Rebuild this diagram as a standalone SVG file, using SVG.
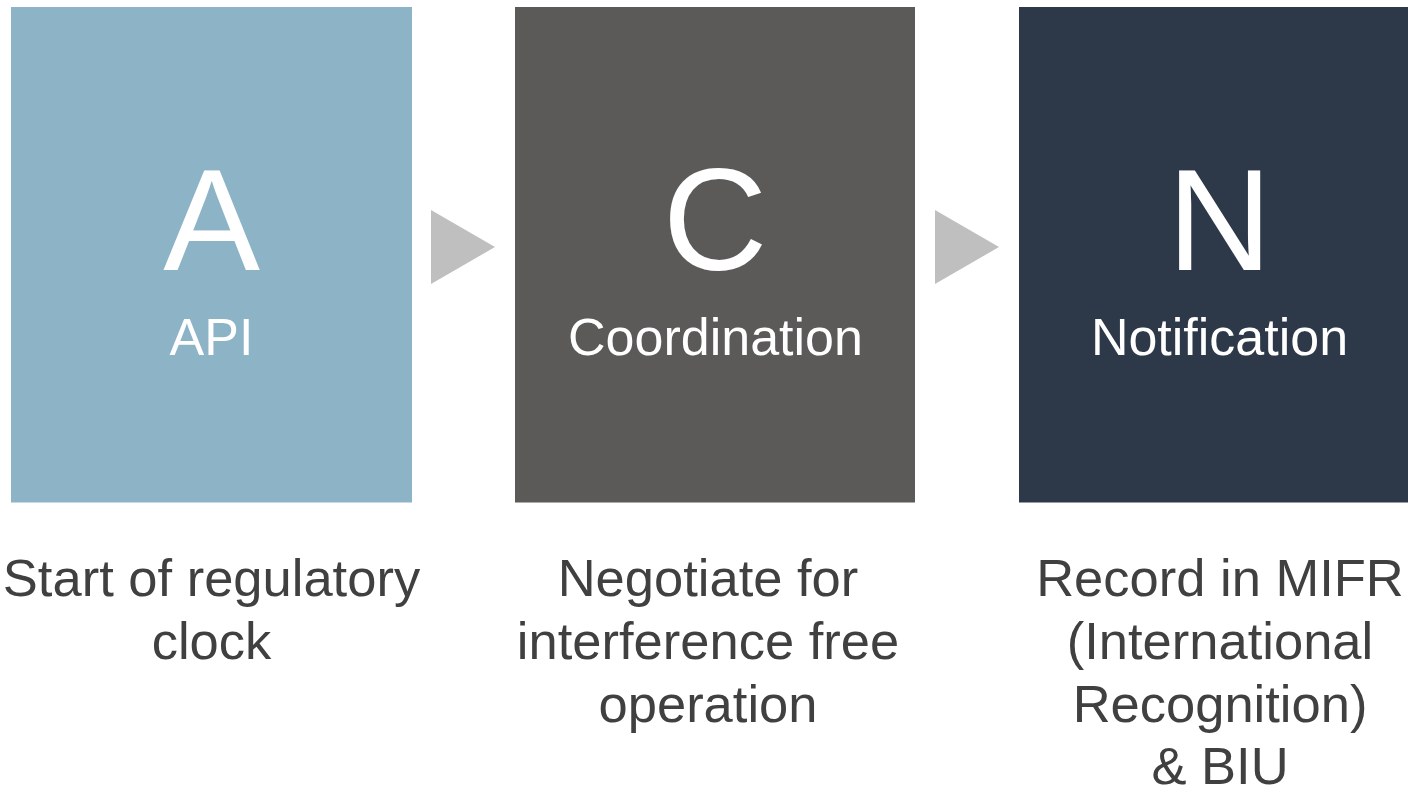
<svg xmlns="http://www.w3.org/2000/svg" width="1408" height="792" viewBox="0 0 1408 792">
<style>
.big{font-family:"Liberation Sans",Arial,sans-serif;font-size:145px;fill:#ffffff;text-anchor:middle}
.lbl{font-family:"Liberation Sans",Arial,sans-serif;font-size:52px;fill:#ffffff;text-anchor:middle}
.desc{font-family:"Liberation Sans",Arial,sans-serif;font-size:52.5px;fill:#404040;text-anchor:middle}
.arr{fill:#BFBFBF}
</style>
<rect width="1408" height="792" fill="#ffffff"/>
<g id="node-api">
<rect x="11" y="7" width="401" height="495.5" fill="#8DB3C7"/>
<text class="big" x="211.5" y="270">A</text>
<text class="lbl" x="211.5" y="355">API</text>
<text class="desc" x="211.5" y="596">Start of regulatory</text>
<text class="desc" x="211.5" y="659">clock</text>
</g>
<g id="node-coordination">
<rect x="515" y="7" width="400" height="495.5" fill="#5B5A58"/>
<text class="big" x="715" y="270">C</text>
<text class="lbl" x="715.5" y="355">Coordination</text>
<text class="desc" x="708" y="596">Negotiate for</text>
<text class="desc" x="708" y="659">interference free</text>
<text class="desc" x="708" y="721.5">operation</text>
</g>
<g id="node-notification">
<rect x="1019" y="7" width="401" height="495.5" fill="#2D3949"/>
<text class="big" x="1219.5" y="270">N</text>
<text class="lbl" x="1219.5" y="355">Notification</text>
<text class="desc" x="1220" y="596">Record in MIFR</text>
<text class="desc" x="1220" y="659">(International</text>
<text class="desc" x="1220" y="721.5">Recognition)</text>
<text class="desc" x="1220" y="784">&amp; BIU</text>
</g>
<g id="connectors">
<polygon class="arr" points="431,210 495,247 431,284"/>
<polygon class="arr" points="935,210 999,247 935,284"/>
</g>
</svg>
